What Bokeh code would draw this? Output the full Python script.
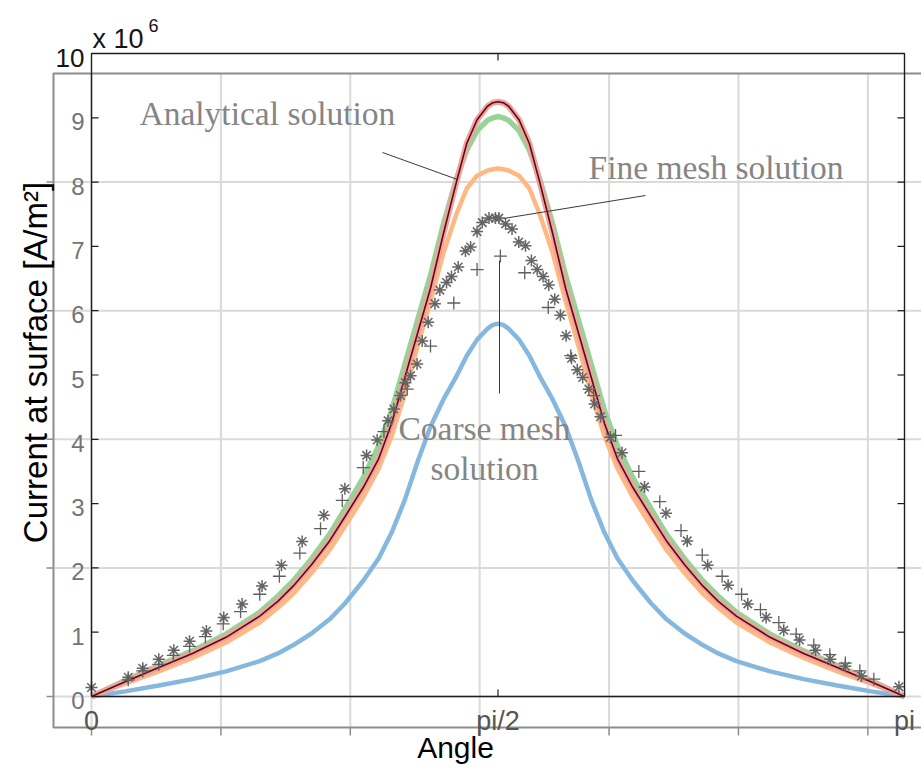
import math
from bokeh.plotting import figure
from bokeh.models import Range1d
from bokeh.core.properties import value
from bokeh.embed import file_html
from bokeh.resources import INLINE

# ---------------- data (values in units of 1e6 A/m^2, angle in rad) ----------------
angle = [0, 0.13, 0.26, 0.39, 0.52, 0.65, 0.72, 0.78, 0.85, 0.92, 0.98, 1.05, 1.11, 1.16,
         1.21, 1.26, 1.31, 1.36, 1.41, 1.45, 1.49, 1.53, 1.551, 1.571, 1.591, 1.612, 1.652,
         1.692, 1.732, 1.782, 1.832, 1.882, 1.932, 1.982, 2.032, 2.092, 2.162, 2.222, 2.292,
         2.362, 2.422, 2.492, 2.622, 2.752, 2.882, 3.012, 3.1416]

analytical = [0, 0.23, 0.45, 0.67, 0.92, 1.25, 1.48, 1.72, 2.05, 2.42, 2.8, 3.25, 3.7, 4.25,
              4.95, 5.65, 6.35, 7.2, 8.0, 8.6, 8.97, 9.18, 9.235, 9.25, 9.235, 9.18, 8.97,
              8.6, 8.0, 7.2, 6.35, 5.65, 4.95, 4.25, 3.7, 3.25, 2.8, 2.42, 2.05,
              1.72, 1.48, 1.25, 0.92, 0.67, 0.45, 0.23, 0]

green_curve = [0, 0.25, 0.48, 0.71, 0.97, 1.31, 1.56, 1.8, 2.14, 2.52, 2.92, 3.4, 3.9, 4.45,
               5.15, 5.85, 6.55, 7.35, 8.05, 8.5, 8.8, 8.96, 9.0, 9.02, 9.0, 8.96, 8.8,
               8.5, 8.05, 7.35, 6.55, 5.85, 5.15, 4.45, 3.9, 3.4, 2.92, 2.52, 2.14,
               1.8, 1.56, 1.31, 0.97, 0.71, 0.48, 0.25, 0]

orange_curve = [0, 0.2, 0.39, 0.6, 0.84, 1.15, 1.38, 1.6, 1.92, 2.28, 2.65, 3.1, 3.55, 4.05,
                4.7, 5.45, 6.15, 6.9, 7.5, 7.9, 8.1, 8.18, 8.2, 8.21, 8.2, 8.18, 8.1,
                7.9, 7.5, 6.9, 6.15, 5.45, 4.7, 4.05, 3.55, 3.1, 2.65, 2.28, 1.92,
                1.6, 1.38, 1.15, 0.84, 0.6, 0.39, 0.2, 0]

blue_curve = [0, 0.08, 0.17, 0.27, 0.39, 0.55, 0.67, 0.8, 0.98, 1.2, 1.45, 1.8, 2.15, 2.55,
              3.05, 3.65, 4.2, 4.62, 4.98, 5.3, 5.55, 5.72, 5.78, 5.8, 5.78, 5.72, 5.55,
              5.3, 4.98, 4.62, 4.2, 3.65, 3.05, 2.55, 2.15, 1.8, 1.45, 1.2, 0.98,
              0.8, 0.67, 0.55, 0.39, 0.27, 0.17, 0.08, 0]

fine_angle = [0.0, 0.142, 0.198, 0.260, 0.318, 0.379, 0.444, 0.511, 0.582, 0.659, 0.734,
              0.814, 0.898, 0.979, 1.063, 1.104, 1.146, 1.168, 1.194, 1.213, 1.233, 1.258,
              1.278, 1.301, 1.327, 1.346, 1.372, 1.391, 1.417, 1.445, 1.465, 1.490, 1.510,
              1.536, 1.561, 1.574, 1.600, 1.625, 1.651, 1.677, 1.700, 1.722, 1.745, 1.767,
              1.790, 1.812, 1.834, 1.855, 1.877, 1.898, 1.922, 1.944, 1.967, 2.005, 2.050,
              2.137, 2.220, 2.302, 2.381, 2.460, 2.536, 2.607, 2.675, 2.736, 2.798, 2.855,
              2.913, 2.975, 3.120]
fine_current = [0.14, 0.30, 0.44, 0.58, 0.72, 0.86, 1.02, 1.23, 1.44, 1.72, 2.04,
                2.41, 2.82, 3.23, 3.75, 3.99, 4.29, 4.47, 4.68, 4.88, 4.99, 5.17,
                5.53, 5.82, 6.11, 6.32, 6.44, 6.53, 6.68, 6.93, 6.99, 7.23, 7.37,
                7.44, 7.44, 7.44, 7.35, 7.27, 7.07, 7.01, 6.78, 6.64, 6.53, 6.40,
                6.18, 5.93, 5.61, 5.26, 5.08, 4.96, 4.78, 4.55, 4.35, 4.03, 3.79,
                3.26, 2.85, 2.42, 2.04, 1.73, 1.44, 1.23, 1.03, 0.88, 0.72, 0.58,
                0.47, 0.32, 0.15]

coarse_angle = [0.142, 0.198, 0.260, 0.316, 0.379, 0.440, 0.509, 0.576, 0.650, 0.726, 0.805,
                0.885, 0.969, 1.050, 1.130, 1.220, 1.310, 1.400, 1.490, 1.580, 1.674, 1.765,
                1.852, 1.940, 2.025, 2.115, 2.196, 2.278, 2.360, 2.437, 2.512, 2.585, 2.656,
                2.723, 2.791, 2.853, 2.913, 2.969, 3.023]
coarse_current = [0.26, 0.40, 0.50, 0.64, 0.78, 0.93, 1.13, 1.32, 1.59, 1.87, 2.23,
                  2.61, 3.05, 3.56, 4.12, 4.78, 5.45, 6.12, 6.64, 6.85, 6.59, 6.05,
                  5.30, 4.68, 4.06, 3.50, 3.03, 2.58, 2.20, 1.87, 1.59, 1.35, 1.15,
                  0.97, 0.80, 0.65, 0.52, 0.40, 0.27]

y_ticks = [0, 1, 2, 3, 4, 5, 6, 7, 8, 9, 10]
y_tick_labels = ["0", "1", "2", "3", "4", "5", "6", "7", "8", "9", "10"]
x_ticks = [0, math.pi / 2, math.pi]
x_tick_labels = ["0", "pi/2", "pi"]
grid_x = [0, 0.5, 1.0, 1.5, 2.0, 2.5, 3.0]
grid_y = [0, 2, 4, 6, 8]

annotation_texts = ["Analytical solution", "Fine mesh solution", "Coarse mesh", "solution"]

# ---------------- layout helpers (canvas pixel -> data) ----------------
W, H = 921, 769


def X(px):
    return (px - 91) * math.pi / 813.0


def Y(py):
    return (696 - py) / 64.3


p = figure(width=W, height=H, output_backend="svg", toolbar_location=None,
           x_range=Range1d(X(0), X(W)), y_range=Range1d(Y(H), Y(0)),
           x_axis_type=None, y_axis_type=None, min_border=0)
p.outline_line_color = None
p.background_fill_color = "white"
p.border_fill_color = "white"

# outer (grey) axes box with grid
grid_col = "#dadada"
p.segment(x0=grid_x, y0=[Y(727)] * len(grid_x), x1=grid_x, y1=[Y(73)] * len(grid_x),
          line_color=grid_col, line_width=2)
p.segment(x0=[X(53)] * len(grid_y), y0=grid_y, x1=[X(925)] * len(grid_y), y1=grid_y,
          line_color=grid_col, line_width=2)
box_col = "#8c8c8c"
p.line(x=[X(925), X(53), X(53), X(925)], y=[Y(73), Y(73), Y(727), Y(727)],
       line_color=box_col, line_width=2)
p.segment(x0=[X(46)] * len(grid_y), y0=grid_y, x1=[X(53)] * len(grid_y), y1=grid_y,
          line_color=box_col, line_width=1.5)
p.segment(x0=grid_x, y0=[Y(727)] * len(grid_x), x1=grid_x, y1=[Y(735)] * len(grid_x),
          line_color=box_col, line_width=1.5)

# curves
p.line(angle, blue_curve, line_color="#7fb3dc", line_width=4.5, line_alpha=0.95)
p.line(angle, green_curve, line_color="#97d397", line_width=5.5)
p.line(angle, orange_curve, line_color="#ffb882", line_width=4.5)
p.line(angle, analytical, line_color="#f0a2a2", line_width=6)
p.line(angle, analytical, line_color="#5c0c0c", line_width=1.6)

# markers
p.scatter(fine_angle, fine_current, marker="asterisk", size=12, line_color="#656565",
          line_width=1.5)
p.scatter(coarse_angle, coarse_current, marker="cross", size=13, line_color="#5f5f5f",
          line_width=1.3)

# inner (black) axes box
ink = "#1e1e1e"
p.line(x=[x_ticks[0], x_ticks[-1], x_ticks[-1], x_ticks[0], x_ticks[0]],
       y=[y_ticks[0], y_ticks[0], y_ticks[-1], y_ticks[-1], y_ticks[0]],
       line_color=ink, line_width=1.4)
inner_y = y_ticks[1:-1]
p.segment(x0=[0] * len(inner_y), y0=inner_y, x1=[X(98)] * len(inner_y), y1=inner_y,
          line_color=ink, line_width=1.2)
p.segment(x0=[math.pi] * len(inner_y), y0=inner_y, x1=[X(897)] * len(inner_y), y1=inner_y,
          line_color=ink, line_width=1.2)
p.segment(x0=[x_ticks[1]] * 2, y0=[0, 10], x1=[x_ticks[1]] * 2, y1=[Y(689), Y(60)],
          line_color=ink, line_width=1.2)

SANS = value("Liberation Sans")
SERIF = value("Liberation Serif")

# tick labels
p.text(x=[0] * 10, y=y_ticks[:-1], text=y_tick_labels[:-1], text_align="right",
       text_baseline="alphabetic", x_offset=-7, y_offset=4,
       text_font=SANS, text_font_size="24px", text_color="#747474")
p.text(x=[0], y=[y_ticks[-1]], text=[y_tick_labels[-1]], text_align="right",
       text_baseline="alphabetic", x_offset=-7, y_offset=4,
       text_font=SANS, text_font_size="26px", text_color="#141414")
p.text(x=x_ticks, y=[0] * 3, text=x_tick_labels, text_align="center",
       text_baseline="alphabetic", y_offset=24,
       text_font=SANS, text_font_size="27px", text_color="#555555")
p.text(x=[X(92)], y=[Y(46)], text=["x 10"], text_align="left", text_baseline="alphabetic",
       y_offset=-8, text_font=SANS, text_font_size="27px", text_color="#141414")
p.text(x=[X(148)], y=[Y(30)], text=["6"], text_align="left", text_baseline="alphabetic",
       y_offset=-5.5, text_font=SANS, text_font_size="18px", text_color="#141414")

# axis titles
p.text(x=[X(35)], y=[Y(362)], text=["Current at surface [A/m²]"], angle=math.pi / 2,
       text_align="center", text_baseline="middle",
       text_font=SANS, text_font_size="33px", text_color="black")
p.text(x=[X(455)], y=[Y(756)], text=["Angle"], text_align="center",
       text_baseline="alphabetic", y_offset=-9,
       text_font=SANS, text_font_size="30px", text_color="black")

# annotations with pointer lines
ann_col = "#858585"
p.text(x=[X(139), X(588)], y=[Y(123), Y(177)], text=annotation_texts[:2],
       text_align="left", text_baseline="alphabetic", y_offset=-10,
       text_font=SERIF, text_font_size="33.5px", text_color=ann_col)
p.text(x=[X(484), X(484)], y=[Y(438), Y(478)], text=annotation_texts[2:],
       text_align="center", text_baseline="alphabetic", y_offset=-10,
       text_font=SERIF, text_font_size="33.5px", text_color=ann_col)
p.segment(x0=[X(382), X(645), X(499)], y0=[Y(152), Y(195), Y(260)],
          x1=[X(457), X(503), X(499)], y1=[Y(179), Y(218), Y(393)],
          line_color="#3a3a3a", line_width=1)

open("out.html", "w").write(file_html(p, INLINE))
